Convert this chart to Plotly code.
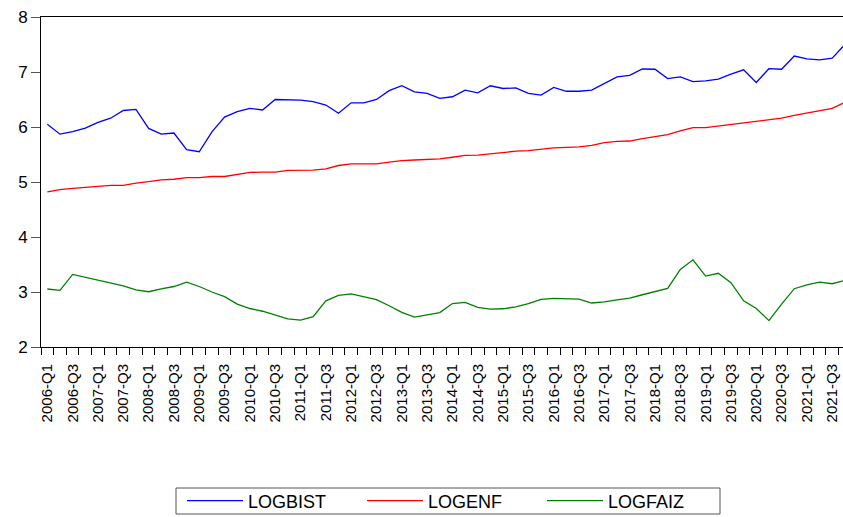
import plotly.graph_objects as go

quarters = [f"{y}-Q{q}" for y in range(2006, 2022) for q in range(1, 5)]

logbist = [6.05, 5.87, 5.915, 5.98, 6.085, 6.16, 6.30, 6.32, 5.975, 5.87,
           5.89, 5.59, 5.55, 5.91, 6.18, 6.28, 6.34, 6.31, 6.50, 6.50,
           6.49, 6.46, 6.40, 6.25, 6.44, 6.44, 6.50, 6.66, 6.75, 6.64,
           6.61, 6.52, 6.55, 6.67, 6.62, 6.75, 6.70, 6.71, 6.61, 6.58,
           6.72, 6.65, 6.65, 6.67, 6.79, 6.91, 6.94, 7.055, 7.05, 6.88,
           6.91, 6.825, 6.84, 6.87, 6.96, 7.04, 6.81, 7.06, 7.05, 7.29,
           7.24, 7.22, 7.25, 7.50]

logenf = [4.82, 4.86, 4.885, 4.90, 4.92, 4.94, 4.94, 4.98, 5.005, 5.04,
          5.05, 5.08, 5.08, 5.10, 5.10, 5.14, 5.175, 5.18, 5.18, 5.21,
          5.21, 5.215, 5.24, 5.30, 5.33, 5.33, 5.33, 5.36, 5.39, 5.40,
          5.41, 5.42, 5.45, 5.485, 5.49, 5.515, 5.53, 5.56, 5.57, 5.595,
          5.62, 5.63, 5.64, 5.665, 5.715, 5.74, 5.745, 5.79, 5.82, 5.86,
          5.93, 5.99, 5.99, 6.02, 6.05, 6.08, 6.10, 6.13, 6.16, 6.21,
          6.25, 6.29, 6.34, 6.45]

logfaiz = [3.055, 3.03, 3.32, 3.27, 3.22, 3.16, 3.11, 3.04, 3.005, 3.055,
           3.10, 3.18, 3.10, 3.00, 2.915, 2.78, 2.70, 2.65, 2.575, 2.51,
           2.49, 2.55, 2.84, 2.94, 2.965, 2.915, 2.86, 2.75, 2.63, 2.545,
           2.58, 2.625, 2.79, 2.81, 2.72, 2.69, 2.695, 2.73, 2.79, 2.865,
           2.885, 2.875, 2.87, 2.80, 2.82, 2.855, 2.89, 2.95, 3.01, 3.065,
           3.41, 3.585, 3.29, 3.34, 3.17, 2.84, 2.70, 2.48, 2.78, 3.06,
           3.13, 3.18, 3.15, 3.21]

y_ticks = [2, 3, 4, 5, 6, 7, 8]

series = [("LOGBIST", logbist, "#0000ff"),
          ("LOGENF", logenf, "#ff0000"),
          ("LOGFAIZ", logfaiz, "#008000")]

idx = list(range(len(quarters)))
fig = go.Figure()
for name, vals, col in series:
    fig.add_trace(go.Scatter(x=idx, y=vals, mode="lines", name=name,
                             line=dict(color=col, width=1.3)))

W, H = 843, 517
L, T, B = 41, 17, 170
plot_w = W - L
plot_h = H - T - B
bottom = H - B


def px_x(p):
    return (p - L) / plot_w


def px_y(p):
    return -(p - bottom) / plot_h


font_family = "Liberation Sans, Arial, sans-serif"
fig.update_layout(
    width=W, height=H,
    margin=dict(l=L, r=0, t=T, b=B, autoexpand=False),
    plot_bgcolor="white", paper_bgcolor="white",
    font=dict(family=font_family, size=15, color="black"),
    showlegend=True,
    legend=dict(orientation="h",
                x=px_x(452), xanchor="center",
                y=px_y(501), yanchor="middle",
                borderwidth=0, bgcolor="rgba(0,0,0,0)",
                font=dict(size=18, family=font_family),
                entrywidth=109, itemwidth=56, tracegroupgap=0),
    shapes=[dict(type="rect", xref="paper", yref="paper",
                 x0=px_x(176), x1=px_x(720), y0=px_y(514), y1=px_y(488),
                 line=dict(color="#555555", width=1), layer="above")],
)
fig.update_xaxes(
    range=[-0.5, 62.85],
    automargin=False,
    tickmode="array",
    tickvals=idx[::2],
    ticktext=quarters[::2],
    tickangle=-90,
    ticks="",
    ticklabelstandoff=10,
    showgrid=False, zeroline=False,
    showline=True, linecolor="black", linewidth=1, mirror=True,
    tickfont=dict(size=15),
    minor=dict(tickmode="array", tickvals=[i - 0.5 for i in idx] + [len(idx) - 0.5],
               ticks="outside", ticklen=7, tickcolor="black", tickwidth=1,
               showgrid=False),
)
fig.update_yaxes(
    range=[2, 8],
    automargin=False,
    tickmode="array", tickvals=y_ticks,
    ticks="outside", ticklen=9, tickcolor="#555555",
    showgrid=False, zeroline=False,
    showline=True, linecolor="black", linewidth=1,
    tickfont=dict(size=17),
)
fig.write_html(
    "out.html",
    config={"displayModeBar": False},
    post_script="document.body.style.margin='0px';document.body.style.overflow='hidden';",
)
